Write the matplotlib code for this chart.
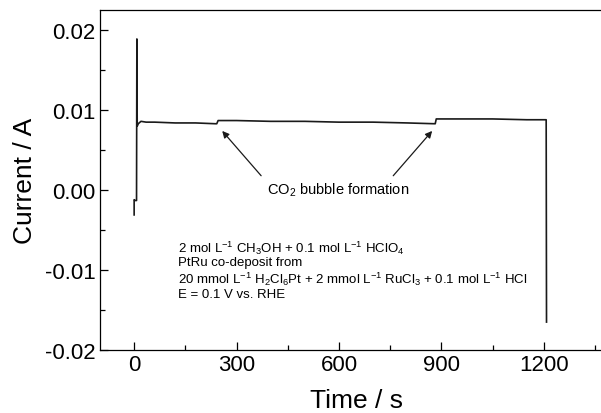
import numpy as np
import matplotlib.pyplot as plt
from matplotlib.ticker import MultipleLocator, FormatStrFormatter

plt.rcParams['font.family'] = ['Liberation Sans', 'DejaVu Sans']
plt.rcParams['mathtext.fontset'] = 'custom'
plt.rcParams['mathtext.rm'] = 'Liberation Sans'
plt.rcParams['mathtext.it'] = 'Liberation Sans'

# chronoamperometry trace
time_s = [0, 0, 3, 7, 8, 9, 12, 20, 35, 60, 120, 180, 238, 242, 246,
          300, 400, 500, 600, 700, 800, 880, 882, 885, 950, 1050, 1150,
          1207, 1208]
current_a = [-0.0031, -0.0012, -0.0013, -0.0013, 0.0189, 0.0080, 0.0083,
             0.0086, 0.0085, 0.0085, 0.0084, 0.0084, 0.0083, 0.0083, 0.0087,
             0.0087, 0.0086, 0.0086, 0.0085, 0.0085, 0.0084, 0.0083, 0.0083,
             0.0089, 0.0089, 0.0089, 0.0088, 0.0088, -0.0165]

# arrow tips / tails (time, current) and label position
arrow_tips = [(258, 0.0074), (873, 0.0074)]
arrow_tails = [(372, 0.0018), (759, 0.0018)]
label_pos = (598, 0.0001)

conditions = [
    r'2 mol L$^{\mathregular{-1}}$ CH$_3$OH + 0.1 mol L$^{\mathregular{-1}}$ HClO$_4$',
    'PtRu co-deposit from',
    r'20 mmol L$^{\mathregular{-1}}$ H$_2$Cl$_6$Pt + 2 mmol L$^{\mathregular{-1}}$ RuCl$_3$'
    r' + 0.1 mol L$^{\mathregular{-1}}$ HCl',
    'E = 0.1 V vs. RHE',
]

fig = plt.figure(figsize=(6.01, 4.14), dpi=100)
ax = fig.add_axes([0.1664, 0.152, 0.852, 0.821])

ax.plot(time_s, current_a, color='#1a1a1a', linewidth=1.2)

ax.set_xlim(-100, 1400)
ax.set_ylim(-0.02, 0.0225)
ax.xaxis.set_major_locator(MultipleLocator(300))
ax.xaxis.set_minor_locator(MultipleLocator(150))
ax.yaxis.set_major_locator(MultipleLocator(0.01))
ax.yaxis.set_minor_locator(MultipleLocator(0.005))
ax.yaxis.set_major_formatter(FormatStrFormatter('%.2f'))
ax.tick_params(which='both', direction='in', labelsize=16, width=0.9, pad=3)
ax.tick_params(which='major', length=6)
ax.tick_params(which='minor', length=3.5)
for sp in ax.spines.values():
    sp.set_linewidth(0.9)

ax.set_xlabel('Time / s', fontsize=19, labelpad=9)
ax.set_ylabel('Current / A', fontsize=19, labelpad=6)

for tip, tail in zip(arrow_tips, arrow_tails):
    ax.annotate('', xy=tip, xytext=tail,
                arrowprops=dict(arrowstyle='-|>', color='#1a1a1a', lw=0.9,
                                mutation_scale=10, shrinkA=0, shrinkB=0))
ax.text(label_pos[0], label_pos[1], r'CO$_2$ bubble formation',
        ha='center', va='center', fontsize=10.5)

# one text per line so the spacing stays even despite sub/superscripts
for i, line in enumerate(conditions):
    ax.text(129, -0.0069 - i * 0.00196, line, ha='left',
            va='center_baseline', fontsize=9.5)

fig.savefig('out.png', dpi=100)
